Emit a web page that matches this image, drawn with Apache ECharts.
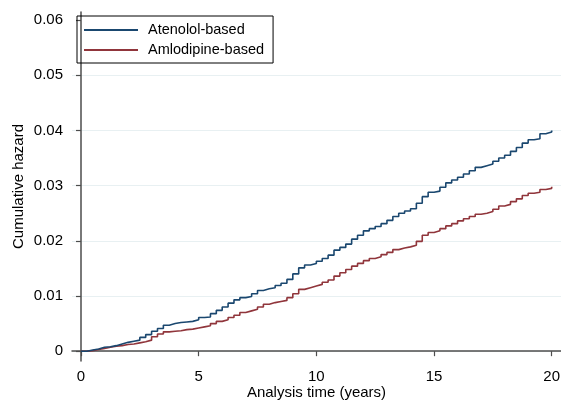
<!DOCTYPE html>
<html>
<head>
<meta charset="utf-8">
<script src="https://cdn.jsdelivr.net/npm/echarts@6/dist/echarts.min.js"></script>
<style>html,body{margin:0;padding:0;background:#fff}#c{width:561px;height:400px}</style>
</head>
<body>
<div id="c"></div>
<script>
const seriesNames = ['Atenolol-based', 'Amlodipine-based'];
const times = [0,0.25,0.5,0.75,1,1.25,1.5,1.75,2,2.25,2.5,2.75,3,3.25,3.5,3.75,4,4.25,4.5,4.75,
  5,5.25,5.5,5.75,6,6.25,6.5,6.75,7,7.25,7.5,7.75,8,8.25,8.5,8.75,9,9.25,9.5,9.75,
  10,10.25,10.5,10.75,11,11.25,11.5,11.75,12,12.25,12.5,12.75,13,13.25,13.5,13.75,14,14.25,14.5,14.75,
  15,15.25,15.5,15.75,16,16.25,16.5,16.75,17,17.25,17.5,17.75,18,18.25,18.5,18.75,19,19.25,19.5,19.75,20];
const atenolol = [0,0.0002,0.0004,0.0007,0.0008,0.001,0.0013,0.0016,0.0018,0.002,0.0025,0.003,0.0036,0.0041,0.0047,0.005,0.0052,0.0053,0.0054,0.0057,
  0.0061,0.0062,0.0068,0.0074,0.008,0.0087,0.0093,0.0097,0.0099,0.0104,0.011,0.0113,0.0115,0.0119,0.0123,0.013,0.014,0.0151,0.0156,0.0159,
  0.0163,0.0168,0.0174,0.0183,0.0188,0.0194,0.0203,0.021,0.0218,0.0222,0.0226,0.0231,0.0237,0.0244,0.025,0.0254,0.0258,0.0268,0.028,0.0288,
  0.029,0.0297,0.0305,0.031,0.0315,0.0321,0.0327,0.0333,0.0336,0.0339,0.0344,0.035,0.0355,0.0362,0.0369,0.0377,0.0383,0.0385,0.0394,0.0397,0.04];
const amlodipine = [0,0.0001,0.0003,0.0005,0.0007,0.0009,0.001,0.0012,0.0013,0.0015,0.0017,0.002,0.0026,0.0031,0.0035,0.0036,0.0037,0.0039,0.004,0.0042,
  0.0044,0.0046,0.005,0.0054,0.0057,0.0061,0.0065,0.007,0.0073,0.0076,0.008,0.0085,0.0088,0.009,0.0092,0.0097,0.0104,0.0112,0.0115,0.0118,
  0.0121,0.0125,0.0129,0.0136,0.0142,0.0148,0.0154,0.0159,0.0164,0.0168,0.0171,0.0175,0.0179,0.0184,0.0187,0.0189,0.0192,0.0199,0.021,0.0215,
  0.0218,0.0222,0.0227,0.0231,0.0236,0.024,0.0244,0.0248,0.025,0.0253,0.0257,0.0263,0.0266,0.0271,0.0276,0.0282,0.0286,0.0288,0.0293,0.0295,0.0298];
const xTicks = [0, 5, 10, 15, 20];
const yTicks = [0, 0.01, 0.02, 0.03, 0.04, 0.05, 0.06];
const yGridValues = [0, 0.01, 0.02, 0.03, 0.04, 0.05];

const FONT = 'Liberation Sans, Arial, sans-serif';
const axisColor = '#4d4d4d';
const colors = ['#1a476f', '#90353b'];

function pairs(xs, ys) { return xs.map((x, i) => [x, ys[i]]); }

const chart = echarts.init(document.getElementById('c'), null, { renderer: 'canvas' });
chart.setOption({
  animation: false,
  backgroundColor: '#ffffff',
  textStyle: { fontFamily: FONT },
  grid: { left: 72, top: 12, right: 0, bottom: 39, outerBoundsMode: 'none' },
  legend: {
    left: 77, top: 16, orient: 'vertical',
    borderColor: '#000', borderWidth: 1,
    padding: [6, 9, 5, 6],
    itemWidth: 54, itemHeight: 14, itemGap: 4,
    itemStyle: { opacity: 0 },
    textStyle: { fontFamily: FONT, fontSize: 14.5, color: '#000', lineHeight: 16, padding: [0, 0, 0, 5] },
    data: seriesNames
  },
  xAxis: {
    type: 'value', min: -0.382, max: 20.395,
    name: 'Analysis time (years)', nameLocation: 'middle', nameGap: 24, nameMoveOverlap: false,
    nameTextStyle: { fontFamily: FONT, fontSize: 15, color: '#000' },
    axisLine: { show: true, lineStyle: { color: axisColor, width: 1.5 } },
    axisTick: { show: true, length: 5, lineStyle: { color: axisColor, width: 1.2 }, customValues: xTicks },
    axisLabel: { customValues: xTicks, margin: 8, fontFamily: FONT, fontSize: 15, color: '#000', formatter: v => String(v) },
    splitLine: { show: false }
  },
  yAxis: [{
    type: 'value', min: -0.00178, max: 0.06145,
    name: 'Cumulative hazard', nameLocation: 'middle', nameGap: 46, nameRotate: 90, nameMoveOverlap: false,
    nameTextStyle: { fontFamily: FONT, fontSize: 15, color: '#000' },
    axisLine: { show: true, lineStyle: { color: axisColor, width: 1.5 } },
    axisTick: { show: true, length: 5, lineStyle: { color: axisColor, width: 1.2 }, customValues: yTicks },
    axisLabel: { customValues: yTicks, margin: 9, fontFamily: FONT, fontSize: 15, color: '#000',
      formatter: v => (Math.abs(v) < 1e-9 ? '0' : v.toFixed(2)) },
    splitLine: { show: false }
  }, {
    type: 'value', min: -0.00178, max: 0.06145, position: 'left',
    axisLine: { show: false }, axisLabel: { show: false },
    axisTick: { show: false, customValues: yGridValues },
    splitLine: { show: true, lineStyle: { color: '#e8f0f2', width: 1 } }
  }],
  series: [
    { name: seriesNames[0], type: 'line', step: 'end', symbol: 'none', data: pairs(times, atenolol),
      lineStyle: { color: colors[0], width: 1.6 }, itemStyle: { color: colors[0] }, z: 3 },
    { name: seriesNames[1], type: 'line', step: 'end', symbol: 'none', data: pairs(times, amlodipine),
      lineStyle: { color: colors[1], width: 1.6 }, itemStyle: { color: colors[1] }, z: 2 }
  ]
});
</script>
</body>
</html>
